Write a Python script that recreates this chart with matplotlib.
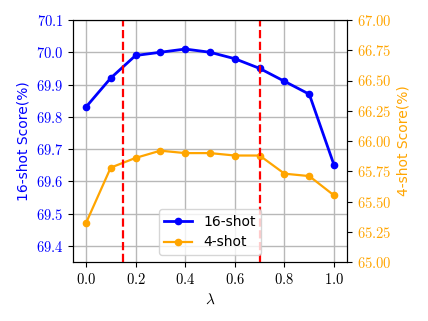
import numpy as np
import matplotlib
matplotlib.use('Agg')
import matplotlib.pyplot as plt
from matplotlib.ticker import FuncFormatter, MultipleLocator

plt.rcParams['mathtext.fontset'] = 'cm'

lam = [0.0, 0.1, 0.2, 0.3, 0.4, 0.5, 0.6, 0.7, 0.8, 0.9, 1.0]
score_16 = [69.83, 69.92, 69.99, 70.00, 70.01, 70.00, 69.98, 69.95, 69.91, 69.87, 69.65]
score_4 = [65.32, 65.78, 65.86, 65.92, 65.90, 65.90, 65.88, 65.88, 65.73, 65.71, 65.55]
vlines = [0.15, 0.7]

fig = plt.figure(figsize=(4.28, 3.21), dpi=100)
ax1 = fig.add_axes([73 / 428, 1 - 262 / 321, 274 / 428, 242 / 321])
ax2 = ax1.twinx()

l1, = ax1.plot(lam, score_16, color='blue', marker='o', markersize=4.5, lw=2, label='16-shot')
l2, = ax2.plot(lam, score_4, color='orange', marker='o', markersize=4.5, lw=1.6, label='4-shot')
for v in vlines:
    ax2.axvline(v, color='red', ls='--', lw=1.6)

ax1.set_xlim(-0.052, 1.052)
ax1.set_ylim(69.35, 70.1)
ax2.set_ylim(65.0, 67.0)
ax1.yaxis.set_major_locator(MultipleLocator(0.1))
ax2.yaxis.set_major_locator(MultipleLocator(0.25))
ax1.xaxis.set_major_locator(MultipleLocator(0.2))

ax1.xaxis.set_major_formatter(FuncFormatter(lambda v, p: '$%.1f$' % v))
ax1.yaxis.set_major_formatter(FuncFormatter(lambda v, p: '$%.1f$' % v))
ax2.yaxis.set_major_formatter(FuncFormatter(lambda v, p: '$%.2f$' % v))

ax1.grid(True, color='#b8b8b8', lw=1)
ax1.set_axisbelow(True)

ax1.set_xlabel(r'$\lambda$', fontsize=11)
ax1.set_ylabel('16-shot Score(%)', color='blue')
ax2.set_ylabel('4-shot Score(%)', color='orange')
ax1.tick_params(axis='y', labelcolor='blue', labelsize=10.5)
ax2.tick_params(axis='y', labelcolor='orange', labelsize=10.5)
ax1.tick_params(axis='x', labelsize=10.5)

ax2.legend([l1, l2], ['16-shot', '4-shot'], loc='lower center')

fig.savefig('out.png', dpi=100)
